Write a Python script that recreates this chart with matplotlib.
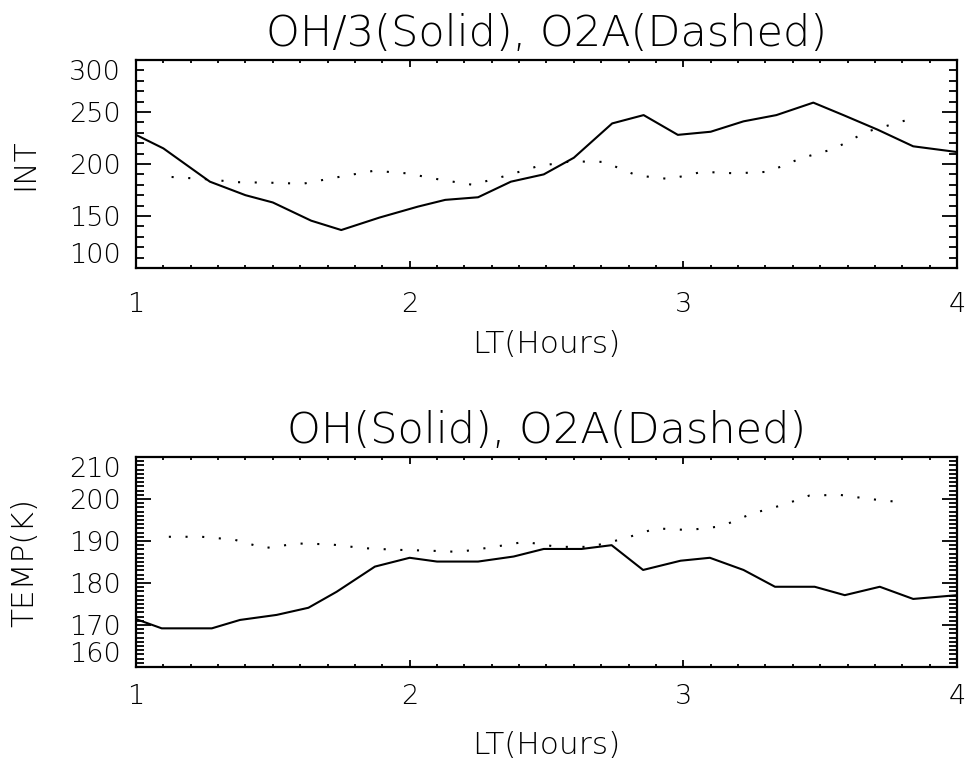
import numpy as np
import matplotlib
matplotlib.use("Agg")
import matplotlib.pyplot as plt
from matplotlib.ticker import MultipleLocator


# 上图: 强度 (OH/3 实线, O2A 虚线)
lt_oh_int = [1.0, 1.10, 1.27, 1.40, 1.50, 1.64, 1.75, 1.89, 2.03, 2.13, 2.25, 2.37, 2.49,
             2.60, 2.74, 2.855, 2.98, 3.10, 3.22, 3.34, 3.475, 3.585, 3.71, 3.84, 4.0]
oh_int = [228, 215, 183, 170, 163, 145.5, 136.5, 148.5, 159, 165.5, 168, 183, 190,
          206, 239, 247, 228, 231, 241, 247, 259, 247, 233, 217, 211.5]

lt_o2_int = [1.13, 1.25, 1.37, 1.49, 1.61, 1.73, 1.87, 1.99, 2.11, 2.23, 2.35, 2.47,
             2.59, 2.71, 2.83, 2.95, 3.07, 3.19, 3.31, 3.43, 3.55, 3.67, 3.82]
o2_int = [187.5, 185.5, 182.5, 182, 181, 187, 193.5, 191, 185, 180, 188.5, 198,
          202.5, 202, 189, 185.5, 192.5, 191, 192.5, 205.5, 214.5, 231, 242.5]

# 下图: 温度
lt_oh_t = [1.0, 1.094, 1.277, 1.38, 1.514, 1.63, 1.733, 1.873, 2.0, 2.10, 2.25, 2.38, 2.49,
           2.628, 2.738, 2.853, 2.99, 3.097, 3.22, 3.335, 3.48, 3.59, 3.718, 3.84, 4.0]
oh_t = [171.4, 169.2, 169.2, 171.2, 172.4, 174.1, 177.9, 183.9, 186.0, 185.1, 185.1, 186.3, 188.1,
        188.1, 189.0, 183.1, 185.3, 186.0, 183.1, 179.1, 179.1, 177.1, 179.1, 176.2, 177.1]

lt_o2_t = [1.12, 1.24, 1.36, 1.47, 1.59, 1.71, 1.83, 1.95, 2.07, 2.18, 2.30, 2.42,
           2.54, 2.66, 2.78, 2.90, 3.02, 3.14, 3.25, 3.37, 3.46, 3.57, 3.68, 3.80]
o2_t = [191, 191, 190.3, 188.3, 189.4, 189.2, 188.3, 187.9, 187.7, 187.4, 188.5, 189.8,
        188.6, 188.6, 190.5, 193, 192.6, 193.5, 196.5, 198.7, 200.8, 201, 200, 199.2]

int_ticks = [100, 150, 200, 250, 300]
temp_ticks = [160, 170, 180, 190, 200, 210]
lt_ticks = [1, 2, 3, 4]

# 细字体，接近 IDL 的 Hershey 字体
FONT = dict(family="DejaVu Sans", weight="light")

plt.rcParams["font.family"] = "DejaVu Sans"


def setup_axes(ax, yticks, ymin_step, title, ylabel, xpad, xlabelpad):
    ax.set_xlim(1, 4)
    ax.set_ylim(yticks[0], yticks[-1])
    ax.set_xticks(lt_ticks)
    ax.set_xticklabels([str(t) for t in lt_ticks], fontsize=19.5, **FONT)
    ax.set_yticks(yticks)
    ax.set_yticklabels([str(t) for t in yticks], fontsize=19.5, **FONT)
    ax.xaxis.set_minor_locator(MultipleLocator(0.1))
    ax.yaxis.set_minor_locator(MultipleLocator(ymin_step))

    ax.tick_params(axis="both", which="both", direction="in", top=True, right=True,
                   width=1.3, color="black")
    ax.tick_params(axis="x", which="major", length=5, pad=xpad)
    ax.tick_params(axis="x", which="minor", length=2.5)
    ax.tick_params(axis="y", which="major", length=11, pad=11)
    ax.tick_params(axis="y", which="minor", length=5.5)

    # 两端的刻度标签往里收，跟原图一样
    yt = ax.yaxis.get_major_ticks()
    yt[0].label1.set_verticalalignment("bottom")
    yt[-1].label1.set_verticalalignment("top")

    for sp in ax.spines.values():
        sp.set_linewidth(1.6)

    ax.set_title(title, fontsize=31, pad=10, **FONT)
    ax.set_xlabel("LT(Hours)", fontsize=22.5, labelpad=xlabelpad, **FONT)
    ax.set_ylabel(ylabel, fontsize=22.5, labelpad=21, **FONT)


fig = plt.figure(figsize=(9.68, 7.67), dpi=100)

ax1 = fig.add_axes([0.1405, 0.6506, 0.8481, 0.2712])
ax1.plot(lt_oh_int, oh_int, color="black", linewidth=1.5)
ax1.plot(lt_o2_int, o2_int, color="black", linewidth=1.5, linestyle=(0, (1, 7)))
setup_axes(ax1, int_ticks, 10, "OH/3(Solid), O2A(Dashed)", "INT", 17, 10)

ax2 = fig.add_axes([0.1405, 0.1304, 0.8481, 0.2738])
ax2.plot(lt_oh_t, oh_t, color="black", linewidth=1.5)
ax2.plot(lt_o2_t, o2_t, color="black", linewidth=1.5, linestyle=(0, (1, 7)))
setup_axes(ax2, temp_ticks, 1, "OH(Solid), O2A(Dashed)", "TEMP(K)", 12, 16)

fig.savefig("out.png", dpi=100)
plt.close(fig)
